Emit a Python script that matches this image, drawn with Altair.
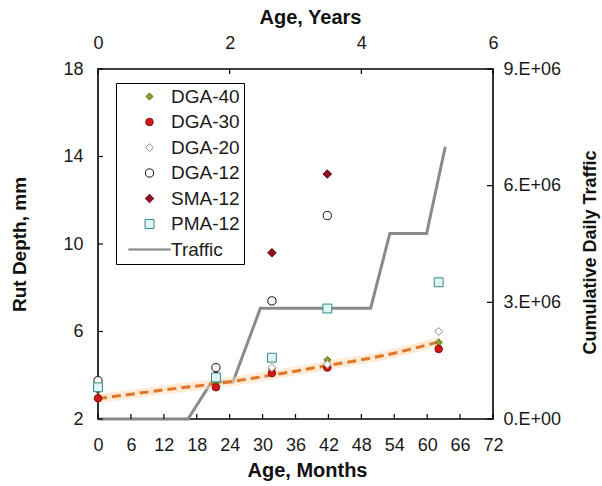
import altair as alt
import pandas as pd

# ---------------- data ----------------
series = ["DGA-40", "DGA-30", "DGA-20", "DGA-12", "SMA-12", "PMA-12"]
months = [0, 21.5, 31.7, 41.8, 62.1]
dga40 = [3.3, 3.65, 4.3, 4.7, 5.5]
dga30 = [2.95, 3.45, 4.1, 4.35, 5.2]
dga20 = [3.6, 4.0, 4.35, 4.5, 6.0]
dga12 = [3.75, 4.35, 7.4, 11.3, None]
sma12 = [3.4, 4.0, 9.6, 13.2, None]
pma12 = [3.45, 3.9, 4.8, 7.05, 8.25]

traffic_months = [0, 16.4, 20.7, 24.6, 29.6, 49.7, 53.2, 59.9, 63.3]
traffic_values = [0, 0, 0.95e6, 0.95e6, 2.85e6, 2.85e6, 4.77e6, 4.77e6, 7.0e6]

trend_months = [0, 12, 24, 32, 42, 52, 62.5]
trend_values = [2.93, 3.33, 3.7, 4.02, 4.45, 4.9, 5.55]

rut_ticks = [2, 6, 10, 14, 18]
month_ticks = list(range(0, 73, 6))
year_ticks = [0, 2, 4, 6]
traffic_ticks = [0, 3e6, 6e6, 9e6]

legend_domain = series + ["Traffic"]
shapes = ["diamond", "circle", "diamond", "circle", "diamond", "square",
          "M-4.5,-0.13H4.5V0.13H-4.5Z"]
fills = ["#8F9E2E", "#D01A1A", "#FFFFFF", "#FFFFFF", "#8E1020", "#E2F5F5", "#8A8A8A"]
strokes = ["#5C6A18", "#8A0A0A", "#8C8C8C", "#111111", "#6A0A14", "#2E8A8A", "#8A8A8A"]
sizes = [50, 85, 45, 70, 45, 110, 196]
stroke_widths = [1, 1, 1.3, 1.6, 1, 1.5, 2.6]

# ---------------- tables ----------------
rows = []
for name, vals in zip(series, [dga40, dga30, dga20, dga12, sma12, pma12]):
    for m, v in zip(months, vals):
        if v is not None:
            rows.append({"month": m, "rut": v, "series": name})
points_df = pd.DataFrame(rows)
traffic_df = pd.DataFrame({"month": traffic_months, "traffic": traffic_values})
trend_df = pd.DataFrame({"month": trend_months, "rut": trend_values})
rut_tick_df = pd.DataFrame({"rut": rut_ticks})
month_tick_df = pd.DataFrame({"month": month_ticks})
year_tick_df = pd.DataFrame({"year": year_ticks})
traffic_tick_df = pd.DataFrame({"traffic": traffic_ticks})

W, H = 395, 350
FONT = "Liberation Sans"
LBL = 18

# ---------------- encodings ----------------
x_month = alt.X(
    "month:Q",
    scale=alt.Scale(domain=[0, 72], nice=False, zero=False),
    axis=alt.Axis(
        values=month_ticks, title="Age, Months", ticks=False, tickSize=0, domain=False,
        grid=False, labelPadding=17, labelOverlap=False, labelFlush=False,
        titleX=209, titleY=51, titleBaseline="middle", titleAlign="center", titleFontSize=20,
    ),
)
y_rut = alt.Y(
    "rut:Q",
    scale=alt.Scale(domain=[2, 18], nice=False, zero=False),
    axis=alt.Axis(
        values=rut_ticks, title="Rut Depth, mm", ticks=False, tickSize=0, domain=False,
        grid=False, labelPadding=15, labelOverlap=False, labelFlush=False,
        titleAngle=270, titleX=-79, titleY=175, titleBaseline="middle", titleAlign="center",
        titleFontSize=19,
    ),
)

legend = alt.Legend(
    title=None, orient="none", legendX=18, legendY=14, strokeColor="#000000",
    padding=4, rowPadding=5.5, labelFontSize=19, labelFont=FONT, labelColor="#1a1a1a",
    symbolOffset=20, labelOffset=12, labelLimit=0, symbolStrokeWidth=1.3,
    labelExpr="datum.label + '\u00a0\u00a0'",
)

points = alt.Chart(points_df).mark_point(filled=False, opacity=1).encode(
    x=x_month,
    y=y_rut,
    shape=alt.Shape("series:N", scale=alt.Scale(domain=legend_domain, range=shapes), legend=legend),
    fill=alt.Fill("series:N", scale=alt.Scale(domain=legend_domain, range=fills), legend=legend),
    stroke=alt.Stroke("series:N", scale=alt.Scale(domain=legend_domain, range=strokes), legend=legend),
    size=alt.Size("series:N", scale=alt.Scale(domain=legend_domain, range=sizes), legend=legend),
    strokeWidth=alt.StrokeWidth("series:N", scale=alt.Scale(domain=legend_domain, range=stroke_widths), legend=None),
)

trend_glow = alt.Chart(trend_df).mark_line(
    color="#FFD9B3", strokeWidth=9, opacity=0.55, interpolate="monotone"
).encode(x=x_month, y=y_rut)
trend = alt.Chart(trend_df).mark_line(
    color="#E0762A", strokeWidth=3, strokeDash=[9, 5], interpolate="monotone"
).encode(x=x_month, y=y_rut)

left_ticks = alt.Chart(rut_tick_df).mark_rule(color="#000", strokeWidth=1.2).encode(
    y=y_rut, x=alt.value(0), x2=alt.value(5)
)
bottom_ticks = alt.Chart(month_tick_df).mark_rule(color="#000", strokeWidth=1.2).encode(
    x=x_month, y=alt.value(H), y2=alt.value(H - 5)
)

rut_layer = alt.layer(trend_glow, trend, left_ticks, bottom_ticks, points)

# traffic (right axis)
x_month_t = alt.X("month:Q", scale=alt.Scale(domain=[0, 72], nice=False, zero=False), axis=None)
y_traffic = alt.Y(
    "traffic:Q",
    scale=alt.Scale(domain=[0, 9e6], nice=False),
    axis=alt.Axis(
        orient="right", values=traffic_ticks, title="Cumulative Daily Traffic",
        ticks=False, tickSize=0, domain=False, grid=False, labelPadding=10,
        labelOverlap=False, labelFlush=False, labelAlign="left",
        labelExpr="datum.value == 0 ? '0.E+00' : format(datum.value / 1000000, 'd') + '.E+06'",
        titleAngle=270, titleX=97, titleY=183, titleBaseline="middle", titleAlign="center",
        titleFontSize=18,
    ),
)
traffic_line = alt.Chart(traffic_df).mark_line(color="#8A8A8A", strokeWidth=3).encode(
    x=x_month_t, y=y_traffic
)
right_ticks = alt.Chart(traffic_tick_df).mark_rule(color="#000", strokeWidth=1.2).encode(
    y=y_traffic, x=alt.value(W), x2=alt.value(W - 6)
)
traffic_layer = alt.layer(traffic_line, right_ticks)

# years (top axis)
x_year = alt.X(
    "year:Q",
    scale=alt.Scale(domain=[0, 6], nice=False, zero=False),
    axis=alt.Axis(
        orient="top", values=year_ticks, title="Age, Years", ticks=False, tickSize=0,
        domain=False, grid=False, labelPadding=17, labelOverlap=False, labelFlush=False,
        titleX=212, titleY=-52, titleBaseline="middle", titleAlign="center", titleFontSize=20,
    ),
)
top_ticks = alt.Chart(year_tick_df).mark_rule(color="#000", strokeWidth=1.2).encode(
    x=x_year, y=alt.value(0), y2=alt.value(5)
)
years_layer = alt.layer(top_ticks)

chart = (
    alt.layer(traffic_layer, rut_layer, years_layer)
    .resolve_scale(x="independent", y="independent")
    .properties(
        width=W, height=H,
        autosize=alt.AutoSizeParams(type="none"),
        padding={"left": 98, "top": 69, "right": 109, "bottom": 67},
        background="#FFFFFF",
    )
    .configure_view(stroke="#000000", strokeWidth=1.6)
    .configure_axis(
        labelFont=FONT, labelFontSize=LBL, labelColor="#1a1a1a",
        titleFont=FONT, titleFontWeight="bold", titleColor="#111111",
    )
)

chart.save("out.html", embed_options={"renderer": "svg", "actions": False})
